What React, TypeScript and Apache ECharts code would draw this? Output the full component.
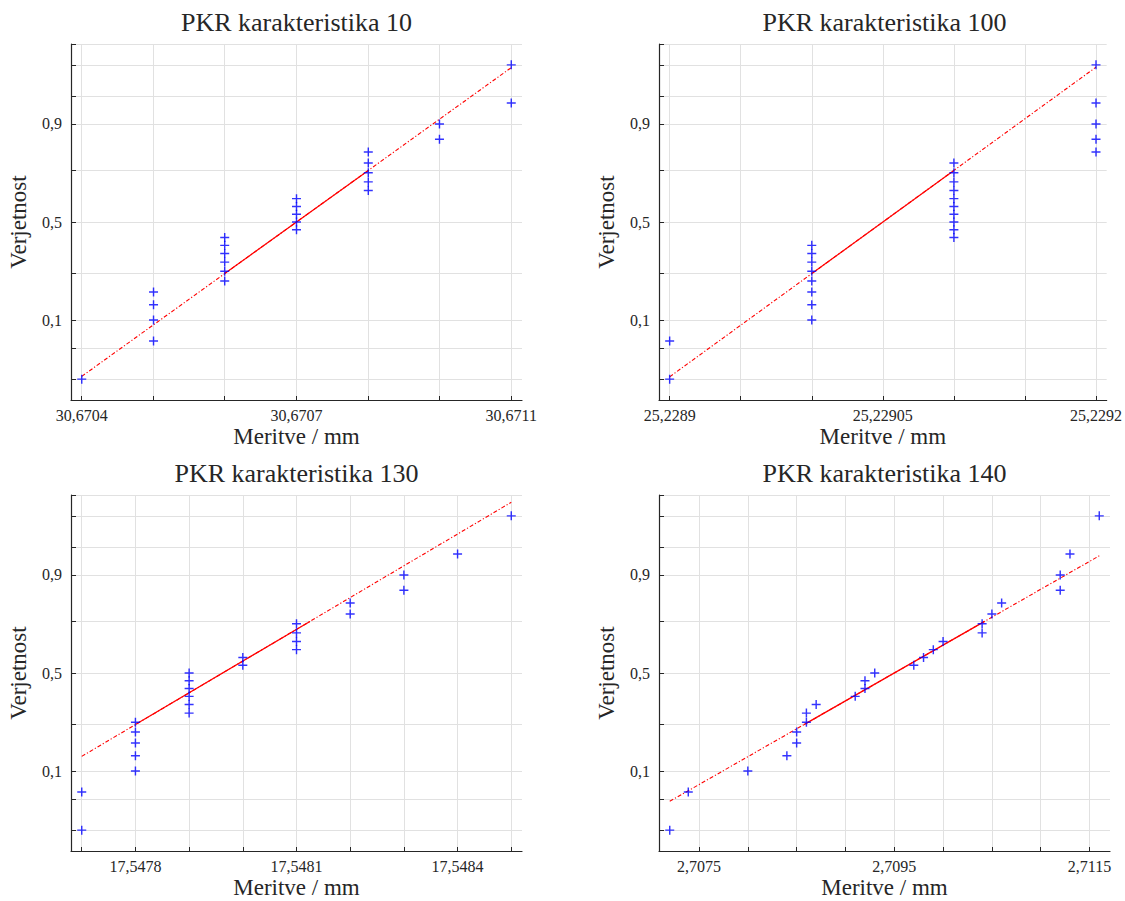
import { useEffect, useRef } from 'react';
import * as echarts from 'echarts';

// Plotting positions (i - 0.5) / n for n = 25 sorted measurements
const plotPositions = [
  0.02, 0.06, 0.1, 0.14, 0.18, 0.22, 0.26, 0.3, 0.34, 0.38, 0.42, 0.46, 0.5,
  0.54, 0.58, 0.62, 0.66, 0.7, 0.74, 0.78, 0.82, 0.86, 0.9, 0.94, 0.98,
];

// Probability grid / tick levels and the labelled ones
const probTicks = [0.01, 0.02, 0.05, 0.1, 0.25, 0.5, 0.75, 0.9, 0.95, 0.98, 0.99];
const probLabelValues = [0.1, 0.5, 0.9];
const probLabelTexts = ['0,1', '0,5', '0,9'];

const titles = [
  'PKR karakteristika 10',
  'PKR karakteristika 100',
  'PKR karakteristika 130',
  'PKR karakteristika 140',
];

// Sorted measurements / mm
const meritve10 = [
  30.6704,
  30.670517, 30.670517, 30.670517, 30.670517,
  30.670633, 30.670633, 30.670633, 30.670633, 30.670633, 30.670633,
  30.67075, 30.67075, 30.67075, 30.67075, 30.67075,
  30.670867, 30.670867, 30.670867, 30.670867, 30.670867,
  30.670983, 30.670983,
  30.6711, 30.6711,
];
const meritve100 = [
  25.2289, 25.2289,
  25.229, 25.229, 25.229, 25.229, 25.229, 25.229, 25.229, 25.229,
  25.2291, 25.2291, 25.2291, 25.2291, 25.2291, 25.2291, 25.2291, 25.2291, 25.2291, 25.2291,
  25.2292, 25.2292, 25.2292, 25.2292, 25.2292,
];
const meritve130 = [
  17.5477, 17.5477,
  17.5478, 17.5478, 17.5478, 17.5478, 17.5478,
  17.5479, 17.5479, 17.5479, 17.5479, 17.5479, 17.5479,
  17.548, 17.548,
  17.5481, 17.5481, 17.5481, 17.5481,
  17.5482, 17.5482,
  17.5483, 17.5483,
  17.5484,
  17.5485,
];
const meritve140 = [
  2.7072, 2.70739, 2.708, 2.7084, 2.7085, 2.7085, 2.7086, 2.7086, 2.7087,
  2.7091, 2.7092, 2.7092, 2.7093, 2.7097, 2.7098, 2.7099, 2.71, 2.7104,
  2.7104, 2.7105, 2.7106, 2.7112, 2.7112, 2.7113, 2.7116,
];

// X tick positions and their labels ('' = tick and grid line only)
const xTicks10 = [30.6704, 30.670517, 30.670633, 30.67075, 30.670867, 30.670983, 30.6711];
const xLabels10 = ['30,6704', '', '', '30,6707', '', '', '30,6711'];
const xTicks100 = [25.2289, 25.22895, 25.229, 25.22905, 25.2291, 25.22915, 25.2292];
const xLabels100 = ['25,2289', '', '', '25,22905', '', '', '25,2292'];
const xTicks130 = [17.5477, 17.5478, 17.5479, 17.548, 17.5481, 17.5482, 17.5483, 17.5484, 17.5485];
const xLabels130 = ['', '17,5478', '', '', '17,5481', '', '', '17,5484', ''];
const xTicks140 = [2.7075, 2.708, 2.7085, 2.709, 2.7095, 2.71, 2.7105, 2.711, 2.7115];
const xLabels140 = ['2,7075', '', '', '', '2,7095', '', '', '', '2,7115'];

const panels = [
  { title: titles[0], data: meritve10, ticks: xTicks10, labels: xLabels10 },
  { title: titles[1], data: meritve100, ticks: xTicks100, labels: xLabels100 },
  { title: titles[2], data: meritve130, ticks: xTicks130, labels: xLabels130 },
  { title: titles[3], data: meritve140, ticks: xTicks140, labels: xLabels140 },
];

// Inverse standard normal CDF (Acklam) – maps probability to the probit scale
function norminv(p: number): number {
  const a = [-39.69683028665376, 220.9460984245205, -275.9285104469687, 138.357751867269, -30.66479806614716, 2.506628277459239];
  const b = [-54.47609879822406, 161.5858368580409, -155.6989798598866, 66.80131188771972, -13.28068155288572];
  const c = [-0.007784894002430293, -0.3223964580411365, -2.400758277161838, -2.549732539343734, 4.374664141464968, 2.938163982698783];
  const d = [0.007784695709041462, 0.3224671290700398, 2.445134137142996, 3.754408661907416];
  const pl = 0.02425;
  if (p < pl) {
    const q = Math.sqrt(-2 * Math.log(p));
    return (((((c[0] * q + c[1]) * q + c[2]) * q + c[3]) * q + c[4]) * q + c[5]) / ((((d[0] * q + d[1]) * q + d[2]) * q + d[3]) * q + 1);
  }
  if (p > 1 - pl) {
    const q = Math.sqrt(-2 * Math.log(1 - p));
    return -(((((c[0] * q + c[1]) * q + c[2]) * q + c[3]) * q + c[4]) * q + c[5]) / ((((d[0] * q + d[1]) * q + d[2]) * q + d[3]) * q + 1);
  }
  const q = p - 0.5;
  const r = q * q;
  return ((((((a[0] * r + a[1]) * r + a[2]) * r + a[3]) * r + a[4]) * r + a[5]) * q) / (((((b[0] * r + b[1]) * r + b[2]) * r + b[3]) * r + b[4]) * r + 1);
}

// Percentile with linear interpolation between order statistics
function percentile(sorted: number[], p: number): number {
  const n = sorted.length;
  const pos = n * p + 0.5;
  if (pos <= 1) return sorted[0];
  if (pos >= n) return sorted[n - 1];
  const i = Math.floor(pos);
  const f = pos - i;
  return sorted[i - 1] + f * (sorted[i] - sorted[i - 1]);
}

const FONT = 'Liberation Serif';
const TEXT = '#262626';
const GRID_COLOR = '#e1e1e1';

const gridBoxes = [
  { left: 71, top: 44, width: 451, height: 356 },
  { left: 659, top: 44, width: 451, height: 356 },
  { left: 71, top: 495, width: 451, height: 356 },
  { left: 659, top: 495, width: 451, height: 356 },
];

const PLUS = 'path://M4.2,0 h1.6 v4.2 h4.2 v1.6 h-4.2 v4.2 h-1.6 v-4.2 h-4.2 v-1.6 h4.2 z';

function buildOption() {
  const zLo = norminv(0.01);
  const zHi = norminv(0.99);
  const zTicks = probTicks.map(norminv);
  const zLabels = probLabelValues.map(norminv);

  const grid: any[] = [];
  const xAxis: any[] = [];
  const yAxis: any[] = [];
  const series: any[] = [];
  const title: any[] = [];

  panels.forEach((pn, i) => {
    const g = gridBoxes[i];
    grid.push({ ...g, containLabel: false });
    title.push({
      text: pn.title,
      left: g.left + g.width / 2,
      top: g.top - 35,
      textAlign: 'center',
      padding: 0,
      textStyle: { fontFamily: FONT, fontSize: 26, fontWeight: 'normal', color: TEXT },
    });

    const xs = pn.data;
    const xmin = xs[0];
    const xmax = xs[xs.length - 1];
    const pad = 0.025 * (xmax - xmin);
    const labelled = pn.ticks.filter((_, k) => pn.labels[k] !== '');

    xAxis.push({
      type: 'value',
      gridIndex: i,
      min: xmin - pad,
      max: xmax + pad,
      name: 'Meritve / mm',
      nameLocation: 'middle',
      nameGap: 25,
      nameTextStyle: { fontFamily: FONT, fontSize: 23, color: TEXT },
      axisLine: { show: true, onZero: false, lineStyle: { color: TEXT, width: 1.2 } },
      axisTick: { show: true, inside: true, length: 4, customValues: pn.ticks, lineStyle: { color: TEXT, width: 1 } },
      axisLabel: {
        show: true,
        margin: 7,
        customValues: labelled,
        fontFamily: FONT,
        fontSize: 16,
        color: TEXT,
        formatter: (v: number) => {
          const k = pn.ticks.findIndex((t) => Math.abs(t - v) < 1e-9);
          return k >= 0 ? pn.labels[k] : '';
        },
      },
      splitLine: { show: true, lineStyle: { color: GRID_COLOR, width: 1 } },
    });

    yAxis.push({
      type: 'value',
      gridIndex: i,
      min: zLo,
      max: zHi,
      name: 'Verjetnost',
      nameLocation: 'middle',
      nameGap: 41,
      nameTextStyle: { fontFamily: FONT, fontSize: 23, color: TEXT },
      axisLine: { show: true, onZero: false, lineStyle: { color: TEXT, width: 1.2 } },
      axisTick: { show: true, inside: true, length: 5, customValues: zTicks, lineStyle: { color: TEXT, width: 1 } },
      axisLabel: {
        show: true,
        margin: 9,
        customValues: zLabels,
        fontFamily: FONT,
        fontSize: 16,
        color: TEXT,
        formatter: (v: number) => {
          const k = zLabels.findIndex((t) => Math.abs(t - v) < 1e-6);
          return k >= 0 ? probLabelTexts[k] : '';
        },
      },
      splitLine: { show: true, lineStyle: { color: GRID_COLOR, width: 1 } },
    });

    // Reference line through the quartiles, extended to the data range
    const q1 = percentile(xs, 0.25);
    const q3 = percentile(xs, 0.75);
    const z1 = norminv(0.25);
    const z3 = norminv(0.75);
    const slope = (z3 - z1) / (q3 - q1);
    const yAt = (x: number) => z1 + slope * (x - q1);

    series.push({
      type: 'line',
      xAxisIndex: i,
      yAxisIndex: i,
      data: [[xmin, yAt(xmin)], [xmax, yAt(xmax)]],
      symbol: 'none',
      silent: true,
      lineStyle: { color: '#ff0000', width: 1.1, type: [4, 2, 1.2, 2] },
      z: 2,
    });
    series.push({
      type: 'line',
      xAxisIndex: i,
      yAxisIndex: i,
      data: [[q1, z1], [q3, z3]],
      symbol: 'none',
      silent: true,
      lineStyle: { color: '#ff0000', width: 1.2 },
      z: 3,
    });
    series.push({
      type: 'scatter',
      xAxisIndex: i,
      yAxisIndex: i,
      data: xs.map((x, k) => [x, norminv(plotPositions[k])]),
      symbol: PLUS,
      symbolSize: 9,
      itemStyle: { color: '#0000ff' },
      silent: true,
      z: 4,
    });
  });

  return { animation: false, backgroundColor: '#ffffff', title, grid, xAxis, yAxis, series };
}

export default function App() {
  const ref = useRef<HTMLDivElement>(null);
  useEffect(() => {
    if (!ref.current) return;
    const chart = echarts.init(ref.current, undefined, { renderer: 'svg' });
    chart.setOption(buildOption() as any);
    return () => chart.dispose();
  }, []);
  return (
    <div
      ref={ref}
      style={{ position: 'absolute', left: 0, top: 0, width: 1125, height: 901, background: '#ffffff' }}
    />
  );
}
